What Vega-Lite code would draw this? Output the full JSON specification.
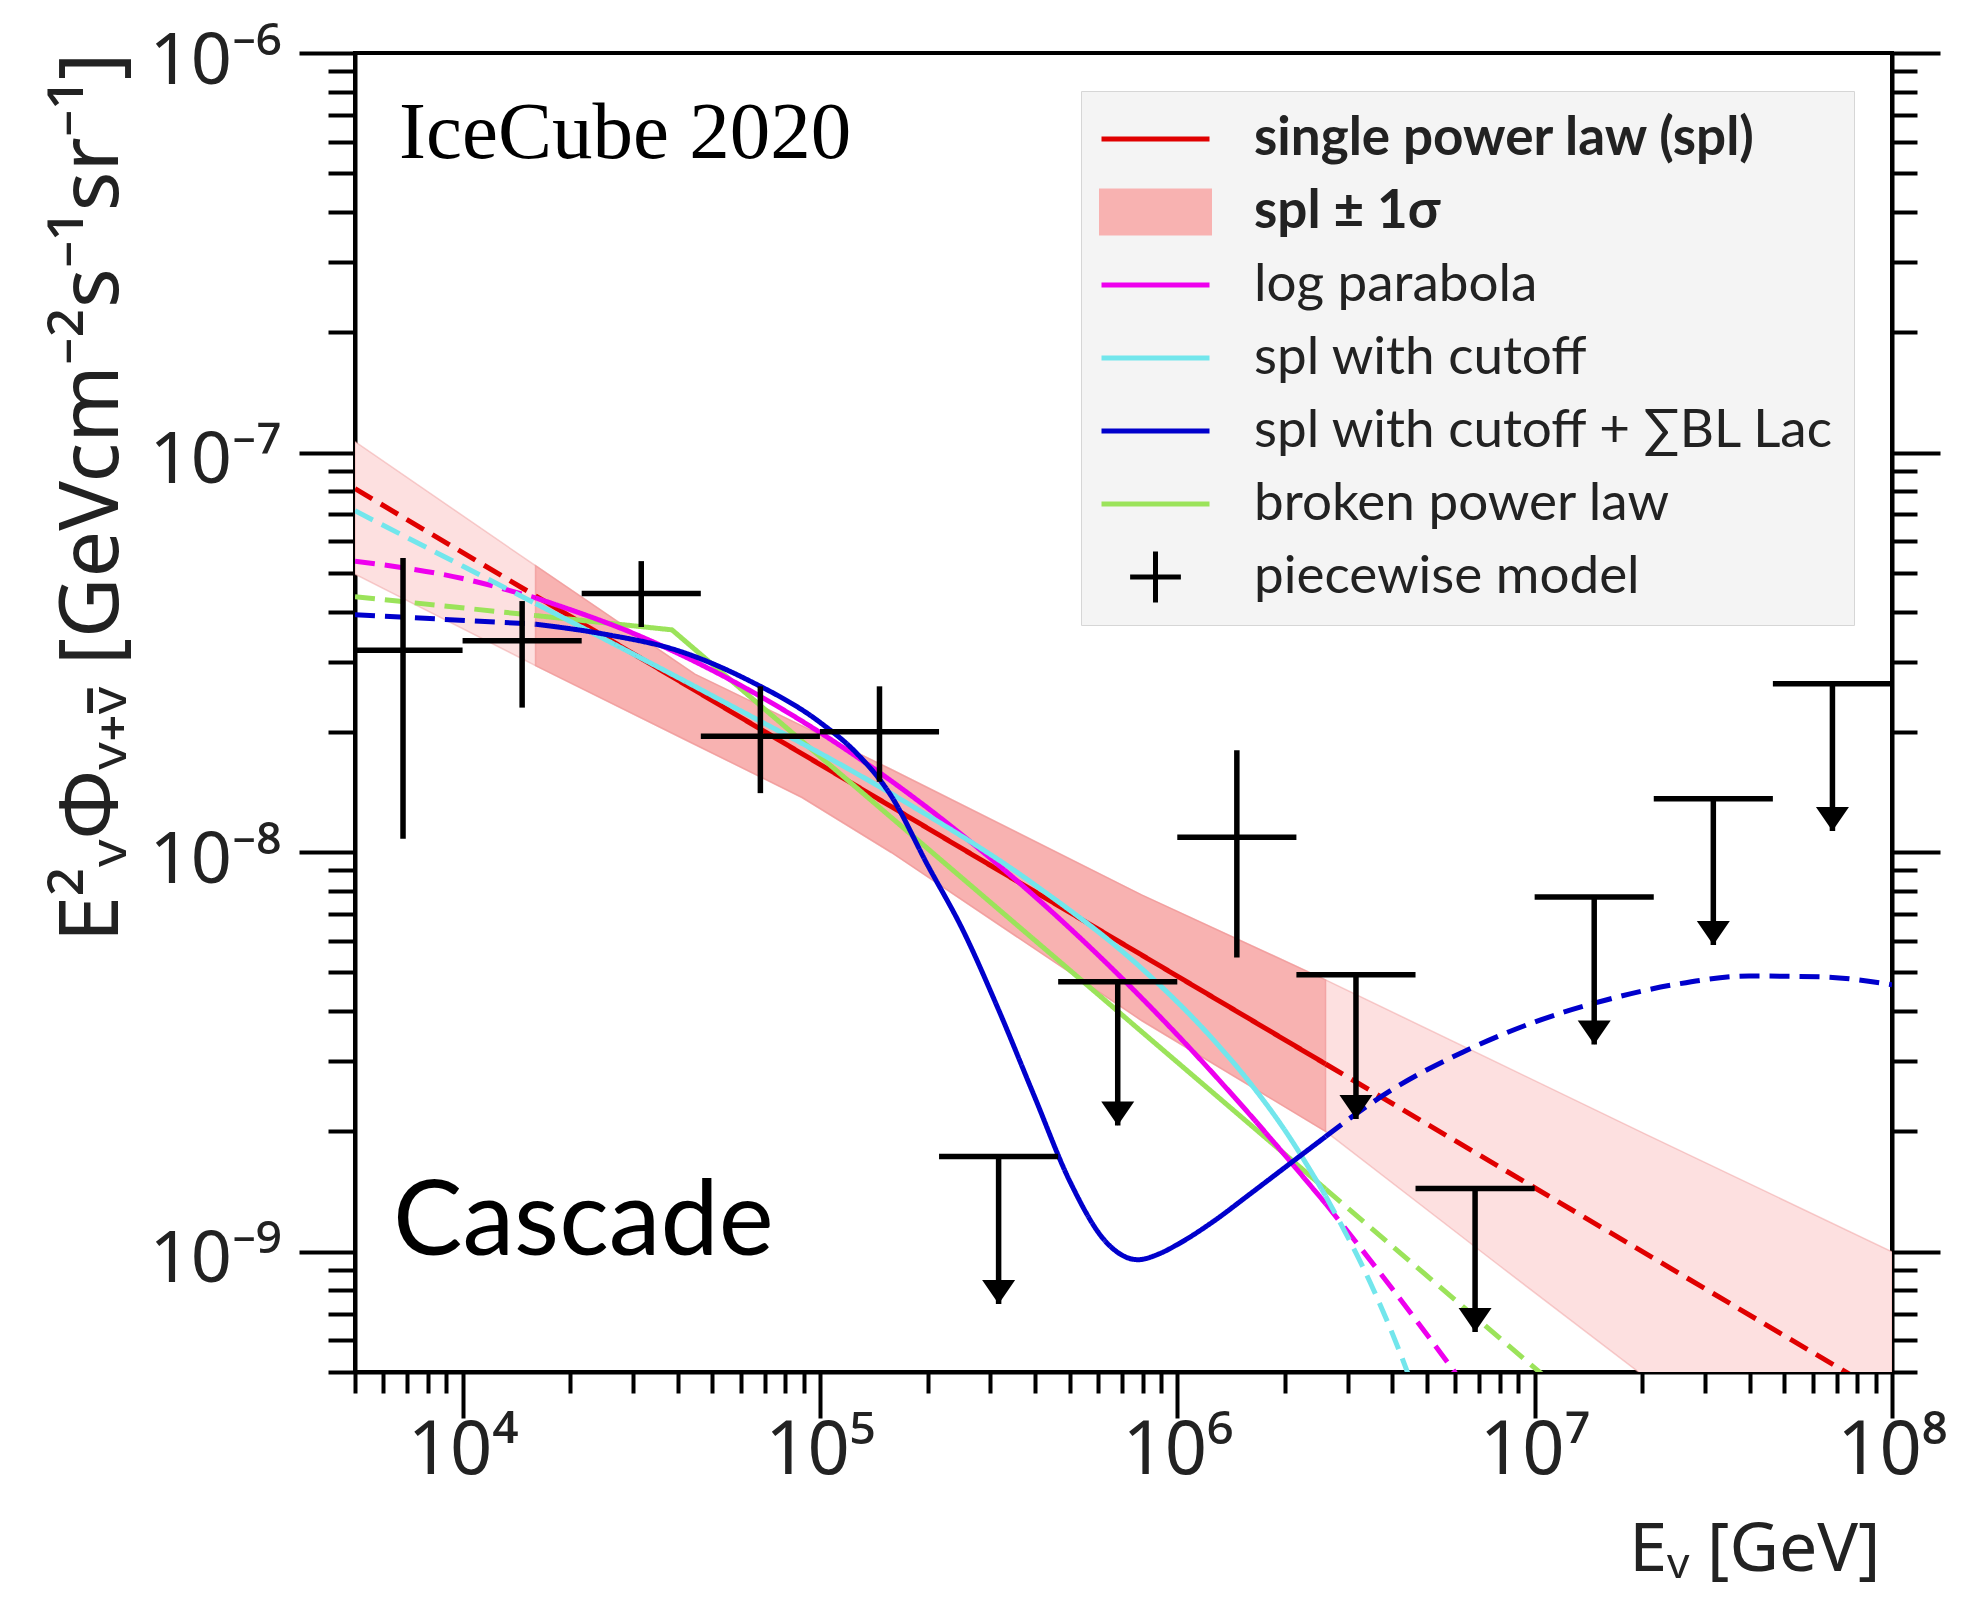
{
  "$schema": "https://vega.github.io/schema/vega-lite/v6.json",
  "width": 1537,
  "height": 1319,
  "autosize": {"type": "none"},
  "padding": {"left": 355, "top": 53, "right": 96, "bottom": 230},
  "background": "white",
  "config": {
    "view": {"stroke": "black", "strokeWidth": 4},
    "axis": {"domainColor": "black", "domainWidth": 4, "tickColor": "black", "tickWidth": 4, "grid": false, "labelFont": "Noto Sans", "labelColor": "#222", "titleFont": "Noto Sans", "titleColor": "#222", "titleFontWeight": "normal", "labelFlush": false, "labelOverlap": false, "labelBound": false}
  },
  "datasets": {
    "band": [
      {"e": 5000, "lo": 4.96e-8, "hi": 1.065e-7},
      {"e": 16000, "lo": 2.93e-8, "hi": 5.21e-8},
      {"e": 44668, "lo": 1.86e-8, "hi": 2.79e-8},
      {"e": 89125, "lo": 1.37e-8, "hi": 2.07e-8},
      {"e": 158489, "lo": 9.98e-9, "hi": 1.61e-8},
      {"e": 794328, "lo": 3.79e-9, "hi": 7.82e-9},
      {"e": 2600000, "lo": 2.0e-9, "hi": 4.79e-9},
      {"e": 7943282, "lo": 9.25e-10, "hi": 2.96e-9},
      {"e": 20417379, "lo": 4.85e-10, "hi": 1.97e-9},
      {"e": 100000000, "lo": 1.62e-10, "hi": 1.0e-9}
    ],
    "bandfit": [
      {"e": 16000, "lo": 2.93e-8, "hi": 5.21e-8},
      {"e": 44668, "lo": 1.86e-8, "hi": 2.79e-8},
      {"e": 89125, "lo": 1.37e-8, "hi": 2.07e-8},
      {"e": 158489, "lo": 9.98e-9, "hi": 1.61e-8},
      {"e": 794328, "lo": 3.79e-9, "hi": 7.82e-9},
      {"e": 2600000, "lo": 2.0e-9, "hi": 4.79e-9}
    ],
    "lin": [
      {"model": "single power law (spl)", "seg": "r1", "style": "dashed", "e": 5000, "f": 8.12e-8},
      {"model": "single power law (spl)", "seg": "r1", "style": "dashed", "e": 16000, "f": 4.38e-8},
      {"model": "single power law (spl)", "seg": "r2", "style": "solid", "e": 16000, "f": 4.38e-8},
      {"model": "single power law (spl)", "seg": "r2", "style": "solid", "e": 2600000, "f": 2.95e-9},
      {"model": "single power law (spl)", "seg": "r3", "style": "dashed", "e": 2600000, "f": 2.95e-9},
      {"model": "single power law (spl)", "seg": "r3", "style": "dashed", "e": 100000000, "f": 4.27e-10},
      {"model": "broken power law", "seg": "g1", "style": "dashed", "e": 5000, "f": 4.36e-8},
      {"model": "broken power law", "seg": "g1", "style": "dashed", "e": 16000, "f": 3.91e-8},
      {"model": "broken power law", "seg": "g2", "style": "solid", "e": 16000, "f": 3.91e-8},
      {"model": "broken power law", "seg": "g2", "style": "solid", "e": 38548, "f": 3.6e-8},
      {"model": "broken power law", "seg": "g2", "style": "solid", "e": 2600000, "f": 1.435e-9},
      {"model": "broken power law", "seg": "g3", "style": "dashed", "e": 2600000, "f": 1.435e-9},
      {"model": "broken power law", "seg": "g3", "style": "dashed", "e": 15848932, "f": 3.6e-10}
    ],
    "mono": [
      {"model": "log parabola", "seg": "m1", "style": "dashed", "e": 5000, "f": 5.35e-8},
      {"model": "log parabola", "seg": "m1", "style": "dashed", "e": 10000, "f": 4.84e-8},
      {"model": "log parabola", "seg": "m1", "style": "dashed", "e": 16000, "f": 4.33e-8},
      {"model": "log parabola", "seg": "m2", "style": "solid", "e": 16000, "f": 4.33e-8},
      {"model": "log parabola", "seg": "m2", "style": "solid", "e": 31623, "f": 3.46e-8},
      {"model": "log parabola", "seg": "m2", "style": "solid", "e": 63096, "f": 2.55e-8},
      {"model": "log parabola", "seg": "m2", "style": "solid", "e": 125893, "f": 1.74e-8},
      {"model": "log parabola", "seg": "m2", "style": "solid", "e": 251189, "f": 1.10e-8},
      {"model": "log parabola", "seg": "m2", "style": "solid", "e": 501187, "f": 6.44e-9},
      {"model": "log parabola", "seg": "m2", "style": "solid", "e": 1000000, "f": 3.49e-9},
      {"model": "log parabola", "seg": "m2", "style": "solid", "e": 1584893, "f": 2.22e-9},
      {"model": "log parabola", "seg": "m2", "style": "solid", "e": 2600000, "f": 1.32e-9},
      {"model": "log parabola", "seg": "m3", "style": "dashed", "e": 2600000, "f": 1.32e-9},
      {"model": "log parabola", "seg": "m3", "style": "dashed", "e": 3981072, "f": 8.11e-10},
      {"model": "log parabola", "seg": "m3", "style": "dashed", "e": 6309573, "f": 4.67e-10},
      {"model": "log parabola", "seg": "m3", "style": "dashed", "e": 7943282, "f": 3.49e-10},
      {"model": "spl with cutoff", "seg": "c1", "style": "dashed", "e": 5000, "f": 7.15e-8},
      {"model": "spl with cutoff", "seg": "c1", "style": "dashed", "e": 10000, "f": 5.2e-8},
      {"model": "spl with cutoff", "seg": "c1", "style": "dashed", "e": 16000, "f": 4.19e-8},
      {"model": "spl with cutoff", "seg": "c2", "style": "solid", "e": 16000, "f": 4.19e-8},
      {"model": "spl with cutoff", "seg": "c2", "style": "solid", "e": 50119, "f": 2.46e-8},
      {"model": "spl with cutoff", "seg": "c2", "style": "solid", "e": 158489, "f": 1.40e-8},
      {"model": "spl with cutoff", "seg": "c2", "style": "solid", "e": 398107, "f": 8.30e-9},
      {"model": "spl with cutoff", "seg": "c2", "style": "solid", "e": 794328, "f": 5.12e-9},
      {"model": "spl with cutoff", "seg": "c2", "style": "solid", "e": 1258925, "f": 3.40e-9},
      {"model": "spl with cutoff", "seg": "c2", "style": "solid", "e": 1584893, "f": 2.67e-9},
      {"model": "spl with cutoff", "seg": "c2", "style": "solid", "e": 1995262, "f": 2.02e-9},
      {"model": "spl with cutoff", "seg": "c2", "style": "solid", "e": 2600000, "f": 1.38e-9},
      {"model": "spl with cutoff", "seg": "c3", "style": "dashed", "e": 2600000, "f": 1.38e-9},
      {"model": "spl with cutoff", "seg": "c3", "style": "dashed", "e": 3548134, "f": 8.0e-10},
      {"model": "spl with cutoff", "seg": "c3", "style": "dashed", "e": 3981072, "f": 6.3e-10},
      {"model": "spl with cutoff", "seg": "c3", "style": "dashed", "e": 5011872, "f": 3.65e-10},
      {"model": "spl with cutoff + ∑BL Lac", "seg": "b1", "style": "dashed", "e": 5000, "f": 3.93e-8},
      {"model": "spl with cutoff + ∑BL Lac", "seg": "b1", "style": "dashed", "e": 16000, "f": 3.72e-8},
      {"model": "spl with cutoff + ∑BL Lac", "seg": "b2", "style": "solid", "e": 16000, "f": 3.72e-8},
      {"model": "spl with cutoff + ∑BL Lac", "seg": "b2", "style": "solid", "e": 25119, "f": 3.508e-8},
      {"model": "spl with cutoff + ∑BL Lac", "seg": "b2", "style": "solid", "e": 39811, "f": 3.199e-8},
      {"model": "spl with cutoff + ∑BL Lac", "seg": "b2", "style": "solid", "e": 63096, "f": 2.692e-8},
      {"model": "spl with cutoff + ∑BL Lac", "seg": "b2", "style": "solid", "e": 100000, "f": 2.113e-8},
      {"model": "spl with cutoff + ∑BL Lac", "seg": "b2", "style": "solid", "e": 125893, "f": 1.778e-8},
      {"model": "spl with cutoff + ∑BL Lac", "seg": "b2", "style": "solid", "e": 158489, "f": 1.38e-8},
      {"model": "spl with cutoff + ∑BL Lac", "seg": "b2", "style": "solid", "e": 199526, "f": 9.33e-9},
      {"model": "spl with cutoff + ∑BL Lac", "seg": "b2", "style": "solid", "e": 251189, "f": 6.38e-9},
      {"model": "spl with cutoff + ∑BL Lac", "seg": "b2", "style": "solid", "e": 316228, "f": 4.03e-9},
      {"model": "spl with cutoff + ∑BL Lac", "seg": "b2", "style": "solid", "e": 398107, "f": 2.45e-9},
      {"model": "spl with cutoff + ∑BL Lac", "seg": "b2", "style": "solid", "e": 501187, "f": 1.496e-9},
      {"model": "spl with cutoff + ∑BL Lac", "seg": "b2", "style": "solid", "e": 630957, "f": 1.059e-9},
      {"model": "spl with cutoff + ∑BL Lac", "seg": "b2", "style": "solid", "e": 776247, "f": 9.55e-10},
      {"model": "spl with cutoff + ∑BL Lac", "seg": "b2", "style": "solid", "e": 891251, "f": 9.886e-10},
      {"model": "spl with cutoff + ∑BL Lac", "seg": "b2", "style": "solid", "e": 1000000, "f": 1.042e-9},
      {"model": "spl with cutoff + ∑BL Lac", "seg": "b2", "style": "solid", "e": 1258925, "f": 1.189e-9},
      {"model": "spl with cutoff + ∑BL Lac", "seg": "b2", "style": "solid", "e": 1584893, "f": 1.387e-9},
      {"model": "spl with cutoff + ∑BL Lac", "seg": "b2", "style": "solid", "e": 1995262, "f": 1.622e-9},
      {"model": "spl with cutoff + ∑BL Lac", "seg": "b2", "style": "solid", "e": 2600000, "f": 1.941e-9},
      {"model": "spl with cutoff + ∑BL Lac", "seg": "b3", "style": "dashed", "e": 2600000, "f": 1.941e-9},
      {"model": "spl with cutoff + ∑BL Lac", "seg": "b3", "style": "dashed", "e": 3162278, "f": 2.213e-9},
      {"model": "spl with cutoff + ∑BL Lac", "seg": "b3", "style": "dashed", "e": 3981072, "f": 2.541e-9},
      {"model": "spl with cutoff + ∑BL Lac", "seg": "b3", "style": "dashed", "e": 6309573, "f": 3.162e-9},
      {"model": "spl with cutoff + ∑BL Lac", "seg": "b3", "style": "dashed", "e": 10000000, "f": 3.758e-9},
      {"model": "spl with cutoff + ∑BL Lac", "seg": "b3", "style": "dashed", "e": 15848932, "f": 4.266e-9},
      {"model": "spl with cutoff + ∑BL Lac", "seg": "b3", "style": "dashed", "e": 25118864, "f": 4.677e-9},
      {"model": "spl with cutoff + ∑BL Lac", "seg": "b3", "style": "dashed", "e": 39810717, "f": 4.898e-9},
      {"model": "spl with cutoff + ∑BL Lac", "seg": "b3", "style": "dashed", "e": 63095734, "f": 4.875e-9},
      {"model": "spl with cutoff + ∑BL Lac", "seg": "b3", "style": "dashed", "e": 100000000, "f": 4.656e-9}
    ],
    "pts": [
      {"e": 6813, "elo": 4642, "ehi": 10000, "f": 3.2e-8, "flo": 1.08e-8, "fhi": 5.45e-8, "ul": false},
      {"e": 14678, "elo": 10000, "ehi": 21544, "f": 3.38e-8, "flo": 2.3e-8, "fhi": 4.25e-8, "ul": false},
      {"e": 31623, "elo": 21544, "ehi": 46416, "f": 4.44e-8, "flo": 3.66e-8, "fhi": 5.35e-8, "ul": false},
      {"e": 68129, "elo": 46416, "ehi": 100000, "f": 1.95e-8, "flo": 1.405e-8, "fhi": 2.6e-8, "ul": false},
      {"e": 146780, "elo": 100000, "ehi": 215443, "f": 2.0e-8, "flo": 1.5e-8, "fhi": 2.6e-8, "ul": false},
      {"e": 316228, "elo": 215443, "ehi": 464159, "f": 1.73e-9, "flo": 7.4e-10, "fhi": 1.73e-9, "ul": true},
      {"e": 681292, "elo": 464159, "ehi": 1000000, "f": 4.74e-9, "flo": 2.07e-9, "fhi": 4.74e-9, "ul": true},
      {"e": 1467799, "elo": 1000000, "ehi": 2154435, "f": 1.09e-8, "flo": 5.45e-9, "fhi": 1.8e-8, "ul": false},
      {"e": 3162278, "elo": 2154435, "ehi": 4641589, "f": 4.93e-9, "flo": 2.15e-9, "fhi": 4.93e-9, "ul": true},
      {"e": 6812921, "elo": 4641589, "ehi": 10000000, "f": 1.44e-9, "flo": 6.3e-10, "fhi": 1.44e-9, "ul": true},
      {"e": 14677993, "elo": 10000000, "ehi": 21544347, "f": 7.72e-9, "flo": 3.3e-9, "fhi": 7.72e-9, "ul": true},
      {"e": 31622777, "elo": 21544347, "ehi": 46415888, "f": 1.36e-8, "flo": 5.86e-9, "fhi": 1.36e-8, "ul": true},
      {"e": 68129207, "elo": 46415888, "ehi": 100000000, "f": 2.64e-8, "flo": 1.13e-8, "fhi": 2.64e-8, "ul": true}
    ]
  },
  "layer": [
    {
      "data": {"name": "band"},
      "mark": {"type": "area", "fill": "#fde0e0", "stroke": "#f0a0a0", "strokeWidth": 1.5, "strokeOpacity": 0.5, "clip": true},
      "encoding": {
        "x": {"field": "e", "type": "quantitative", "scale": {"type": "log", "domain": [5000, 100000000], "nice": false},
          "axis": {"orient": "bottom", "values": [5000, 6000, 7000, 8000, 9000, 10000, 20000, 30000, 40000, 50000, 60000, 70000, 80000, 90000, 100000, 200000, 300000, 400000, 500000, 600000, 700000, 800000, 900000, 1000000, 2000000, 3000000, 4000000, 5000000, 6000000, 7000000, 8000000, 9000000, 10000000, 20000000, 30000000, 40000000, 50000000, 60000000, 70000000, 80000000, 90000000, 100000000],
            "labelExpr": "abs(log(datum.value)/LN10 - round(log(datum.value)/LN10)) > 0.01 ? '' : ('10' + (round(log(datum.value)/LN10) == 4 ? '⁴' : round(log(datum.value)/LN10) == 5 ? '⁵' : round(log(datum.value)/LN10) == 6 ? '⁶' : round(log(datum.value)/LN10) == 7 ? '⁷' : '⁸'))",
            "tickSize": {"condition": {"test": "abs(log(datum.value)/LN10 - round(log(datum.value)/LN10)) < 0.01", "value": 46}, "value": 21},
            "labelFontSize": 74, "labelPadding": -3,
            "title": "Eᵥ [GeV]", "titleFontSize": 68, "titleX": 1525, "titleY": 198, "titleAlign": "right", "titleBaseline": "alphabetic", "titleAnchor": "end"}},
        "y": {"field": "lo", "type": "quantitative", "scale": {"type": "log", "domain": [5e-10, 1e-6], "nice": false},
          "axis": {"orient": "left", "values": [5e-10, 6e-10, 7e-10, 8e-10, 9e-10, 1e-9, 2e-9, 3e-9, 4e-9, 5e-9, 6e-9, 7e-9, 8e-9, 9e-9, 1e-8, 2e-8, 3e-8, 4e-8, 5e-8, 6e-8, 7e-8, 8e-8, 9e-8, 1e-7, 2e-7, 3e-7, 4e-7, 5e-7, 6e-7, 7e-7, 8e-7, 9e-7, 1e-6],
            "labelExpr": "abs(log(datum.value)/LN10 - round(log(datum.value)/LN10)) > 0.01 ? '' : ('10' + (round(log(datum.value)/LN10) == -6 ? '⁻⁶' : round(log(datum.value)/LN10) == -7 ? '⁻⁷' : round(log(datum.value)/LN10) == -8 ? '⁻⁸' : '⁻⁹'))",
            "tickSize": {"condition": {"test": "abs(log(datum.value)/LN10 - round(log(datum.value)/LN10)) < 0.01", "value": 56}, "value": 27},
            "labelFontSize": 72, "labelPadding": 18, "labelOffset": 8,
            "title": "E\u00b2\u1d65\u03a6\u1d65\u208a\u1d65\u0304 [GeVcm\u207b\u00b2s\u207b\u00b9sr\u207b\u00b9]", "titleFontSize": 83, "titleX": -238, "titleY": 444, "titleAngle": -90, "titleAlign": "center", "titleBaseline": "alphabetic"}},
        "y2": {"field": "hi"}
      }
    },
    {
      "data": {"name": "bandfit"},
      "mark": {"type": "area", "fill": "#f8b2b1", "stroke": "#ee8f8f", "strokeWidth": 1.5, "strokeOpacity": 0.6, "clip": true},
      "encoding": {
        "x": {"field": "e", "type": "quantitative", "scale": {"type": "log", "domain": [5000, 100000000], "nice": false}, "axis": null},
        "y": {"field": "lo", "type": "quantitative", "scale": {"type": "log", "domain": [5e-10, 1e-6], "nice": false},
          "axis": {"orient": "right", "values": [5e-10, 6e-10, 7e-10, 8e-10, 9e-10, 1e-9, 2e-9, 3e-9, 4e-9, 5e-9, 6e-9, 7e-9, 8e-9, 9e-9, 1e-8, 2e-8, 3e-8, 4e-8, 5e-8, 6e-8, 7e-8, 8e-8, 9e-8, 1e-7, 2e-7, 3e-7, 4e-7, 5e-7, 6e-7, 7e-7, 8e-7, 9e-7, 1e-6],
            "labels": false, "title": null,
            "tickSize": {"condition": {"test": "abs(log(datum.value)/LN10 - round(log(datum.value)/LN10)) < 0.01", "value": 48}, "value": 25}}},
        "y2": {"field": "hi"}
      }
    },
    {
      "data": {"name": "lin"},
      "mark": {"type": "line", "strokeWidth": 5, "clip": true, "interpolate": "linear"},
      "encoding": {
        "x": {"field": "e", "type": "quantitative", "scale": {"type": "log", "domain": [5000, 100000000], "nice": false}, "axis": null},
        "y": {"field": "f", "type": "quantitative", "scale": {"type": "log", "domain": [5e-10, 1e-6], "nice": false}, "axis": null},
        "detail": {"field": "seg"},
        "strokeDash": {"field": "style", "type": "nominal", "scale": {"domain": ["solid", "dashed"], "range": [[1, 0], [20, 10]]}, "legend": null},
        "color": {"field": "model", "type": "nominal",
          "scale": {"domain": ["single power law (spl)", "spl ± 1σ", "log parabola", "spl with cutoff", "spl with cutoff + ∑BL Lac", "broken power law", "piecewise model"], "range": ["#e00000", "#f8b2b1", "#ee00ee", "#72e6ec", "#0000cc", "#9be35a", "#000000"]},
          "legend": {"title": null, "orient": "top-right", "offset": 38, "padding": 18, "fillColor": "#f4f4f4", "strokeColor": "#d6d6d6",
            "labelFont": "Lato", "labelFontSize": 53, "labelColor": "#222", "labelLimit": 900, "labelOffset": 42,
            "symbolSize": 11664, "symbolStrokeWidth": 5, "rowPadding": 13, "clipHeight": 60,
            "encode": {
              "symbols": {"update": {
                "shape": {"signal": "datum.value === 'spl ± 1σ' ? 'M-1,-0.39L1,-0.39L1,0.39L-1,0.39Z' : datum.value === 'piecewise model' ? 'M-0.47,0L0.47,0M0,-0.47L0,0.47' : 'M-1,0L1,0'"},
                "fill": {"signal": "datum.value === 'spl ± 1σ' ? '#f8b2b1' : 'transparent'"},
                "stroke": {"signal": "datum.value === 'spl ± 1σ' ? 'transparent' : scale('color', datum.value)"},
                "opacity": {"value": 1}
              }},
              "labels": {"update": {"fontWeight": {"signal": "datum.value === 'single power law (spl)' || datum.value === 'spl ± 1σ' ? 'bold' : 'normal'"}}}
            }}}
      }
    },
    {
      "data": {"name": "mono"},
      "mark": {"type": "line", "strokeWidth": 5, "clip": true, "interpolate": "monotone"},
      "encoding": {
        "x": {"field": "e", "type": "quantitative", "scale": {"type": "log", "domain": [5000, 100000000], "nice": false}, "axis": null},
        "y": {"field": "f", "type": "quantitative", "scale": {"type": "log", "domain": [5e-10, 1e-6], "nice": false}, "axis": null},
        "detail": {"field": "seg"},
        "strokeDash": {"field": "style", "type": "nominal", "scale": {"domain": ["solid", "dashed"], "range": [[1, 0], [20, 10]]}, "legend": null},
        "color": {"field": "model", "type": "nominal",
          "scale": {"domain": ["single power law (spl)", "spl ± 1σ", "log parabola", "spl with cutoff", "spl with cutoff + ∑BL Lac", "broken power law", "piecewise model"], "range": ["#e00000", "#f8b2b1", "#ee00ee", "#72e6ec", "#0000cc", "#9be35a", "#000000"]},
          "legend": {"title": null, "orient": "top-right", "offset": 38, "padding": 18, "fillColor": "#f4f4f4", "strokeColor": "#d6d6d6",
            "labelFont": "Lato", "labelFontSize": 53, "labelColor": "#222", "labelLimit": 900, "labelOffset": 42,
            "symbolSize": 11664, "symbolStrokeWidth": 5, "rowPadding": 13, "clipHeight": 60,
            "encode": {
              "symbols": {"update": {
                "shape": {"signal": "datum.value === 'spl ± 1σ' ? 'M-1,-0.39L1,-0.39L1,0.39L-1,0.39Z' : datum.value === 'piecewise model' ? 'M-0.47,0L0.47,0M0,-0.47L0,0.47' : 'M-1,0L1,0'"},
                "fill": {"signal": "datum.value === 'spl ± 1σ' ? '#f8b2b1' : 'transparent'"},
                "stroke": {"signal": "datum.value === 'spl ± 1σ' ? 'transparent' : scale('color', datum.value)"},
                "opacity": {"value": 1}
              }},
              "labels": {"update": {"fontWeight": {"signal": "datum.value === 'single power law (spl)' || datum.value === 'spl ± 1σ' ? 'bold' : 'normal'"}}}
            }}}
      }
    },
    {
      "data": {"name": "pts"},
      "mark": {"type": "rule", "color": "black", "strokeWidth": 5.5, "clip": true},
      "encoding": {
        "x": {"field": "e", "type": "quantitative", "scale": {"type": "log", "domain": [5000, 100000000], "nice": false}, "axis": null},
        "y": {"field": "flo", "type": "quantitative", "scale": {"type": "log", "domain": [5e-10, 1e-6], "nice": false}, "axis": null},
        "y2": {"field": "fhi"}
      }
    },
    {
      "data": {"name": "pts"},
      "mark": {"type": "rule", "color": "black", "strokeWidth": 5.5, "clip": true},
      "encoding": {
        "x": {"field": "elo", "type": "quantitative", "scale": {"type": "log", "domain": [5000, 100000000], "nice": false}, "axis": null},
        "x2": {"field": "ehi"},
        "y": {"field": "f", "type": "quantitative", "scale": {"type": "log", "domain": [5e-10, 1e-6], "nice": false}, "axis": null}
      }
    },
    {
      "data": {"name": "pts"},
      "transform": [{"filter": "datum.ul"}],
      "mark": {"type": "point", "shape": "M-1,-1.45L1,-1.45L0,0Z", "size": 1089, "filled": true, "color": "black", "opacity": 1, "clip": true},
      "encoding": {
        "x": {"field": "e", "type": "quantitative", "scale": {"type": "log", "domain": [5000, 100000000], "nice": false}, "axis": null},
        "y": {"field": "flo", "type": "quantitative", "scale": {"type": "log", "domain": [5e-10, 1e-6], "nice": false}, "axis": null}
      }
    },
    {
      "data": {"values": [{"t": "IceCube 2020"}]},
      "mark": {"type": "text", "font": "Liberation Serif", "fontSize": 81, "align": "left", "baseline": "alphabetic", "color": "black"},
      "encoding": {
        "x": {"datum": 6640, "type": "quantitative", "scale": {"type": "log", "domain": [5000, 100000000], "nice": false}, "axis": null},
        "y": {"datum": 5.46e-7, "type": "quantitative", "scale": {"type": "log", "domain": [5e-10, 1e-6], "nice": false}, "axis": null},
        "text": {"field": "t"}
      }
    },
    {
      "data": {"values": [{"t": "Cascade"}]},
      "mark": {"type": "text", "font": "Lato", "fontSize": 104, "align": "left", "baseline": "alphabetic", "color": "black"},
      "encoding": {
        "x": {"datum": 6385, "type": "quantitative", "scale": {"type": "log", "domain": [5000, 100000000], "nice": false}, "axis": null},
        "y": {"datum": 9.84e-10, "type": "quantitative", "scale": {"type": "log", "domain": [5e-10, 1e-6], "nice": false}, "axis": null},
        "text": {"field": "t"}
      }
    }
  ],
  "resolve": {"axis": {"x": "independent", "y": "independent"}}
}
